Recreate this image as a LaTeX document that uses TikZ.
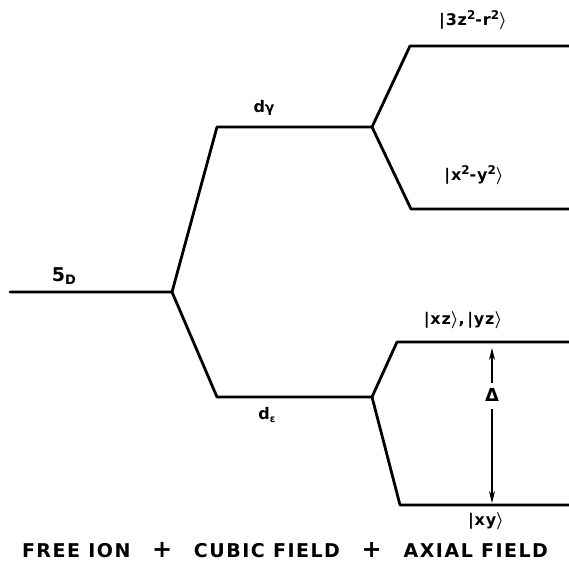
\documentclass[tikz,border=0pt]{standalone}
\usepackage{amsmath}
\usepackage{fontspec}
\setmainfont{DejaVu Sans}[BoldFont={DejaVu Sans Bold}]
\usetikzlibrary{arrows.meta}
\newcommand{\kt}[1]{\textbar#1$\boldsymbol{\rangle}$}
\newcommand{\sq}{\raisebox{0.65ex}{\fontsize{12}{13}\selectfont 2}}
\newcommand{\bigplus}{{\fontsize{24}{24}\selectfont +}}
\begin{document}
\begin{tikzpicture}[x=1pt,y=-1pt,
  lvl/.style={line width=2.8pt,line cap=round,line join=round},
  lab/.style={font=\bfseries\fontsize{16}{17}\selectfont\addfontfeatures{LetterSpace=5},inner sep=0pt},
  gap/.style={line width=1.8pt,-{Stealth[length=12pt,width=6pt]}}]
\useasboundingbox (0,0) rectangle (569,567);
\coordinate (L0) at (10,292);
\coordinate (J0) at (172,292);
\coordinate (G0) at (217,127);
\coordinate (G1) at (372,127);
\coordinate (E0) at (217,397);
\coordinate (E1) at (372,397);
\coordinate (A0) at (410,46);
\coordinate (A1) at (569,46);
\coordinate (B0) at (411,209);
\coordinate (B1) at (569,209);
\coordinate (C0) at (397,342);
\coordinate (C1) at (569,342);
\coordinate (D0) at (400,505);
\coordinate (D1) at (569,505);
\draw[lvl] (L0) -- (J0) -- (G0) -- (G1) -- (A0) -- (A1);
\draw[lvl] (G1) -- (B0) -- (B1);
\draw[lvl] (J0) -- (E0) -- (E1) -- (C0) -- (C1);
\draw[lvl] (E1) -- (D0) -- (D1);
\node[lab] (Dl) at (492,395) {\fontsize{18}{19}\selectfont Δ};
\coordinate (u0) at (492,383);
\coordinate (u1) at (492,348);
\coordinate (d0) at (492,409);
\coordinate (d1) at (492,503);
\draw[gap] (u0) -- (u1);
\draw[gap] (d0) -- (d1);
\node[lab] (a) at (473,20) {\kt{3z\sq-r\sq}};
\node[lab] (b) at (474,175) {\kt{x\sq-y\sq}};
\node[lab] (c) at (463,320) {\kt{xz},\,\kt{yz}};
\node[lab] (d) at (486,521) {\kt{xy}};
\node[lab] (g) at (264,108) {d{\fontsize{14}{15}\selectfont γ}};
\node[lab] (e) at (267,415) {d\raisebox{-0.4ex}{\fontsize{10}{11}\selectfont ε}};
\node[lab] (f) at (64,276) {\fontsize{19}{20}\selectfont 5\raisebox{-0.35ex}{\fontsize{13}{14}\selectfont D}};
\node[inner sep=0pt,font=\bfseries\fontsize{19}{20}\selectfont\addfontfeatures{LetterSpace=8}] (t) at (285,550)
  {\makebox[526pt][s]{FREE ION\hfill\bigplus\hfill CUBIC FIELD\hfill\bigplus\hfill AXIAL FIELD}};
\end{tikzpicture}
\end{document}
